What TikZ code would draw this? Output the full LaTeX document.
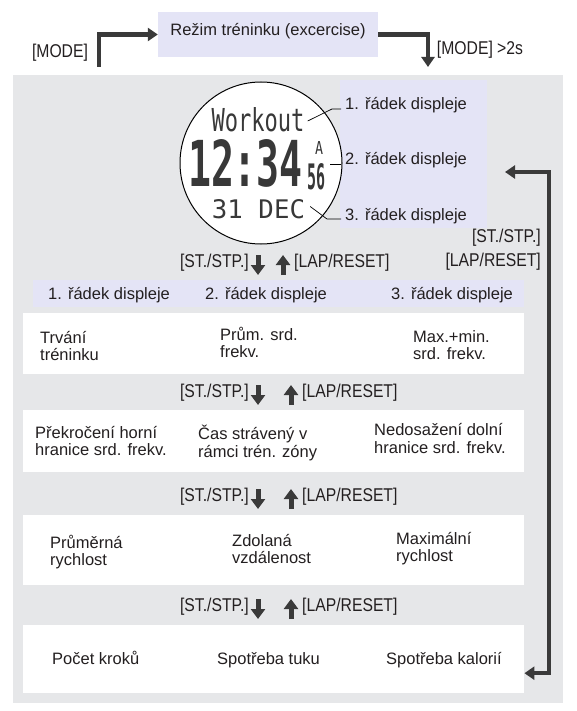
\documentclass[tikz,border=0pt]{standalone}
\usepackage{fontspec}
\setmainfont{Liberation Sans}
\newfontfamily\narrowfont{Liberation Sans}[FakeStretch=0.85]
\newfontfamily\lcdfont{DejaVu Sans Mono}
\usepackage{xcolor}
\usetikzlibrary{arrows.meta,calc,positioning}
\definecolor{panelgray}{HTML}{E6E7E9}
\definecolor{rowlilac}{HTML}{E4E4F6}
\definecolor{arrowgray}{HTML}{3A3A3A}
\definecolor{inkgray}{HTML}{231F20}

\begin{document}
\begin{tikzpicture}[x=1pt,y=-1pt]
  \tikzset{plain text/.style={font=\fontsize{16.5}{17.5}\selectfont,text=inkgray,inner sep=0pt},
    key text/.style={font=\narrowfont\fontsize{18.5}{20}\selectfont,text=inkgray,inner sep=0pt},
    cell/.style={plain text,align=left,anchor=west},
    flow/.style={draw=arrowgray,line width=4.5pt,-{Triangle[width=13pt,length=10pt]}},
    loop flow/.style={draw=arrowgray,line width=4.5pt,{Triangle[width=13pt,length=10pt]}-{Triangle[width=13pt,length=10pt]}},
    press/.style={draw=arrowgray,line width=5pt,-{Triangle[width=14pt,length=10pt]}},
    leader/.style={draw=black,line width=0.7pt},
    white row/.style={fill=white,minimum width=501pt,minimum height=#1,anchor=north west,inner sep=0pt},
    lcd/.style={text=black!78,inner sep=0pt}}%
  \useasboundingbox (0,0) rectangle (576,711);

  % mode entry
  \node [fill=rowlilac,minimum width=220pt,minimum height=45pt,plain text,text height=15pt,text depth=12pt] (regime) at (268,34.5) {Režim tréninku (excercise)};
  \node [key text] (modekey) at (60,53) {[MODE]};
  \node [key text] (holdkey) at (480,50) {[MODE] >2s};
  \coordinate (modein) at (99,67);
  \coordinate (modeout) at (428,67);
  \draw [flow] (modein) |- (regime.west);
  \draw [flow] (regime.east) -| (modeout);

  \node [fill=panelgray,minimum width=550pt,minimum height=628pt,anchor=north west,inner sep=0pt] (panel) at (13,75) {};

  % watch face
  \node [fill=rowlilac,minimum width=147pt,minimum height=148pt,anchor=north west,inner sep=0pt] (linebox) at (340,80) {};
  \node [circle,draw=black,fill=white,line width=1pt,minimum size=162pt,inner sep=0pt] (watch) at (261,163) {};
  \node [lcd] (wk) at (258,120) {\resizebox{93pt}{24pt}{\lcdfont Workout}};
  \node [lcd] (hm) at (245.5,163.5) {\resizebox{115pt}{47pt}{\lcdfont\bfseries 12:34}};
  \node [lcd] (ampm) at (319,148.5) {\resizebox{8pt}{13pt}{\lcdfont A}};
  \node [lcd] (sec) at (316,176.5) {\resizebox{18pt}{26pt}{\lcdfont\bfseries 56}};
  \node [lcd] (dt) at (258.5,209.5) {\resizebox{93pt}{19pt}{\lcdfont 31 DEC}};

  \node [plain text,anchor=west] (lbl1) at (345,105) {1. řádek displeje};
  \node [plain text,anchor=west] (lbl2) at (345,160) {2. řádek displeje};
  \node [plain text,anchor=west] (lbl3) at (345,216) {3. řádek displeje};
  \draw [leader] ($(lbl1.west)+(-4,4)$) -- ++(-9,0) -- ($(wk.east)+(3,1)$);
  \draw [leader] ($(lbl2.west)+(-4,4)$) -- ++(-11,0);
  \draw [leader] ($(lbl3.west)+(-4,3)$) -- ++(-14,0) -- ($(dt.east)+(5,-3)$);

  % table of values
  \node [fill=rowlilac,minimum width=491pt,minimum height=27pt,anchor=north west,inner sep=0pt] (head) at (33,280) {};
  \node [plain text,anchor=west] (head1) at (48,295) {1. řádek displeje};
  \node [plain text,anchor=west] (head2) at (205,295) {2. řádek displeje};
  \node [plain text,anchor=west] (head3) at (391,295) {3. řádek displeje};

  \node [white row=61pt] (box1) at (23,313) {};
  \node [white row=62pt] (box2) at (23,410) {};
  \node [white row=70pt] (box3) at (23,515) {};
  \node [white row=68pt] (box4) at (23,625) {};

  \node [cell] (dur) at (40,346) {Trvání\\tréninku};
  \node [cell] (avghr) at (220,342.5) {Prům. srd.\\frekv.};
  \node [cell] (maxhr) at (413,345) {Max.+min.\\srd. frekv.};
  \node [cell] (above) at (35,441) {Překročení horní\\hranice srd. frekv.};
  \node [cell] (inzone) at (198,443) {Čas strávený v\\rámci trén. zóny};
  \node [cell] (below) at (374,438.5) {Nedosažení dolní\\hranice srd. frekv.};
  \node [cell] (avgspd) at (50,552) {Průměrná\\rychlost};
  \node [cell] (dist) at (232,549) {Zdolaná\\vzdálenost};
  \node [cell] (maxspd) at (396,548.5) {Maximální\\rychlost};
  \node [cell] (steps) at (52,658) {Počet kroků};
  \node [cell] (fat) at (217,660) {Spotřeba tuku};
  \node [cell] (kcal) at (386,660) {Spotřeba kalorií};

  % key presses between rows
  \foreach \rw/\ry/\ux in {1/263/283,2/393/291,3/497/291,4/607/291}{
    \node [key text,anchor=east] (stp\rw) at (249,\ry) {[ST./STP.]};
    \node [key text,anchor=west] (lap\rw) at (\ux+11,\ry) {[LAP/RESET]};
    \draw [press] ($(stp\rw.east)+(9,-8)$) -- ++(0,20);
    \draw [press] ($(lap\rw.west)+(-11,12)$) -- ++(0,-20);
  }

  \coordinate (looptop) at (505,172);
  \draw [loop flow] (looptop) -- ++(44,0) |- ($(box4.east)+(0,14)$);
  \node [key text,anchor=east] (loopst) at (541,238) {[ST./STP.]};
  \node [key text,anchor=east] (looplap) at (541,262) {[LAP/RESET]};
\end{tikzpicture}
\end{document}
